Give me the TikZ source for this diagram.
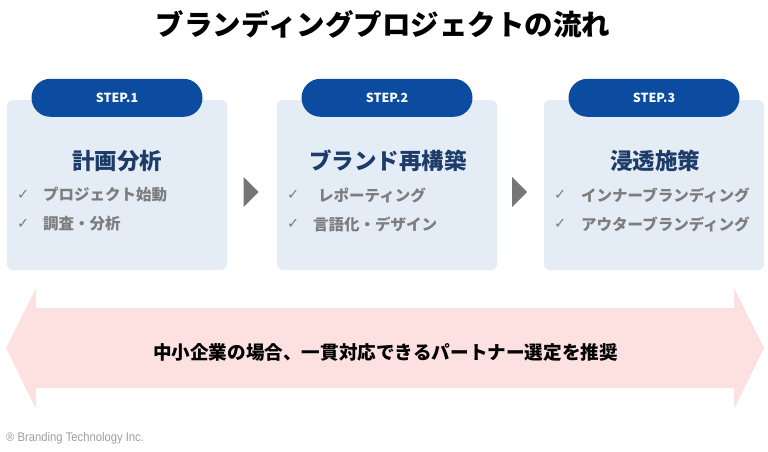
\documentclass[tikz,border=0pt]{standalone}
\usepackage{fontspec}
\setmainfont{Noto Sans CJK JP}
\newfontfamily\checkfont{DejaVu Sans}
\newfontfamily\notefont{Liberation Sans}[FakeStretch=0.9]
\usetikzlibrary{calc}
\definecolor{boxblue}{RGB}{228,236,245}
\definecolor{pillblue}{RGB}{12,76,160}
\definecolor{navy}{RGB}{30,60,105}
\definecolor{itemgray}{RGB}{125,125,125}
\definecolor{flowgray}{RGB}{118,118,118}
\definecolor{arrowpink}{RGB}{253,225,225}

\begin{document}
\begin{tikzpicture}[
  x=1pt, y=-1pt,
  stepbox/.style={fill=boxblue, rounded corners=6pt, minimum width=220pt, minimum height=170pt, inner sep=0pt},
  pill/.style={fill=pillblue, rounded corners=19pt, minimum width=171pt, minimum height=38pt, inner sep=0pt, text=white, font=\bfseries\fontsize{12.5}{14}\selectfont},
  phase/.style={text=navy, inner sep=0pt, font=\bfseries\fontsize{22.5}{26}\selectfont},
  item/.style={anchor=west, inner sep=0pt, text=itemgray, font=\bfseries\fontsize{15.5}{18}\selectfont},
  tick/.style={anchor=west, inner sep=0pt, text=itemgray, font=\checkfont\fontsize{14.5}{16}\selectfont},
  flow/.style={fill=flowgray},
]
\useasboundingbox[fill=white] (0,0) rectangle (768,452);

% title
\node[font=\bfseries\fontsize{28.5}{32}\selectfont] (title) at (383,24) {ブランディングプロジェクトの流れ};

% three steps
\node[stepbox] (b1) at (117,185) {};
\node[stepbox] (b2) at (387,185) {};
\node[stepbox] (b3) at (654,185) {};
\node[pill] (p1) at ([yshift=2pt]b1.north) {STEP.1};
\node[pill] (p2) at ([yshift=2pt]b2.north) {STEP.2};
\node[pill] (p3) at ([yshift=2pt]b3.north) {STEP.3};
\node[phase] (h1) at (117,161) {計画分析};
\node[phase] (h2) at (388,161) {ブランド再構築};
\node[phase] (h3) at (655,161) {浸透施策};

\node[tick] (c11) at (17,195) {✓};
\node[item] (i11) at (43,195) {プロジェクト始動};
\node[tick] (c12) at (17,224) {✓};
\node[item] (i12) at (43,224) {調査・分析};
\node[tick] (c21) at (287,195) {✓};
\node[item] (i21) at (318,195) {レポーティング};
\node[tick] (c22) at (287,224) {✓};
\node[item] (i22) at (313,224) {言語化・デザイン};
\node[tick] (c31) at (554,195) {✓};
\node[item] (i31) at (581,195) {インナーブランディング};
\node[tick] (c32) at (554,224) {✓};
\node[item] (i32) at (581,224) {アウターブランディング};

% arrows between steps
\foreach \a/\b in {b1/b2,b2/b3}
  \fill[flow] ($(\a.east)!.5!(\b.west)+(-8.5,-8)$) -- ++(0,30) -- ++(15,-15) -- cycle;

% pink double arrow
\fill[arrowpink] (6,348) -- (36,288) -- (36,308) -- (734,308) -- (734,288) -- (764,348)
  -- (734,409) -- (734,388) -- (36,388) -- (36,409) -- cycle;
\node[font=\bfseries\fontsize{18.6}{22}\selectfont] (msg) at (385.5,352) {中小企業の場合、一貫対応できるパートナー選定を推奨};

\node[anchor=west, inner sep=0pt, text=black!38, font=\notefont\fontsize{12.5}{14}\selectfont] (copy) at (6,438) {® Branding Technology Inc.};
\end{tikzpicture}
\end{document}
